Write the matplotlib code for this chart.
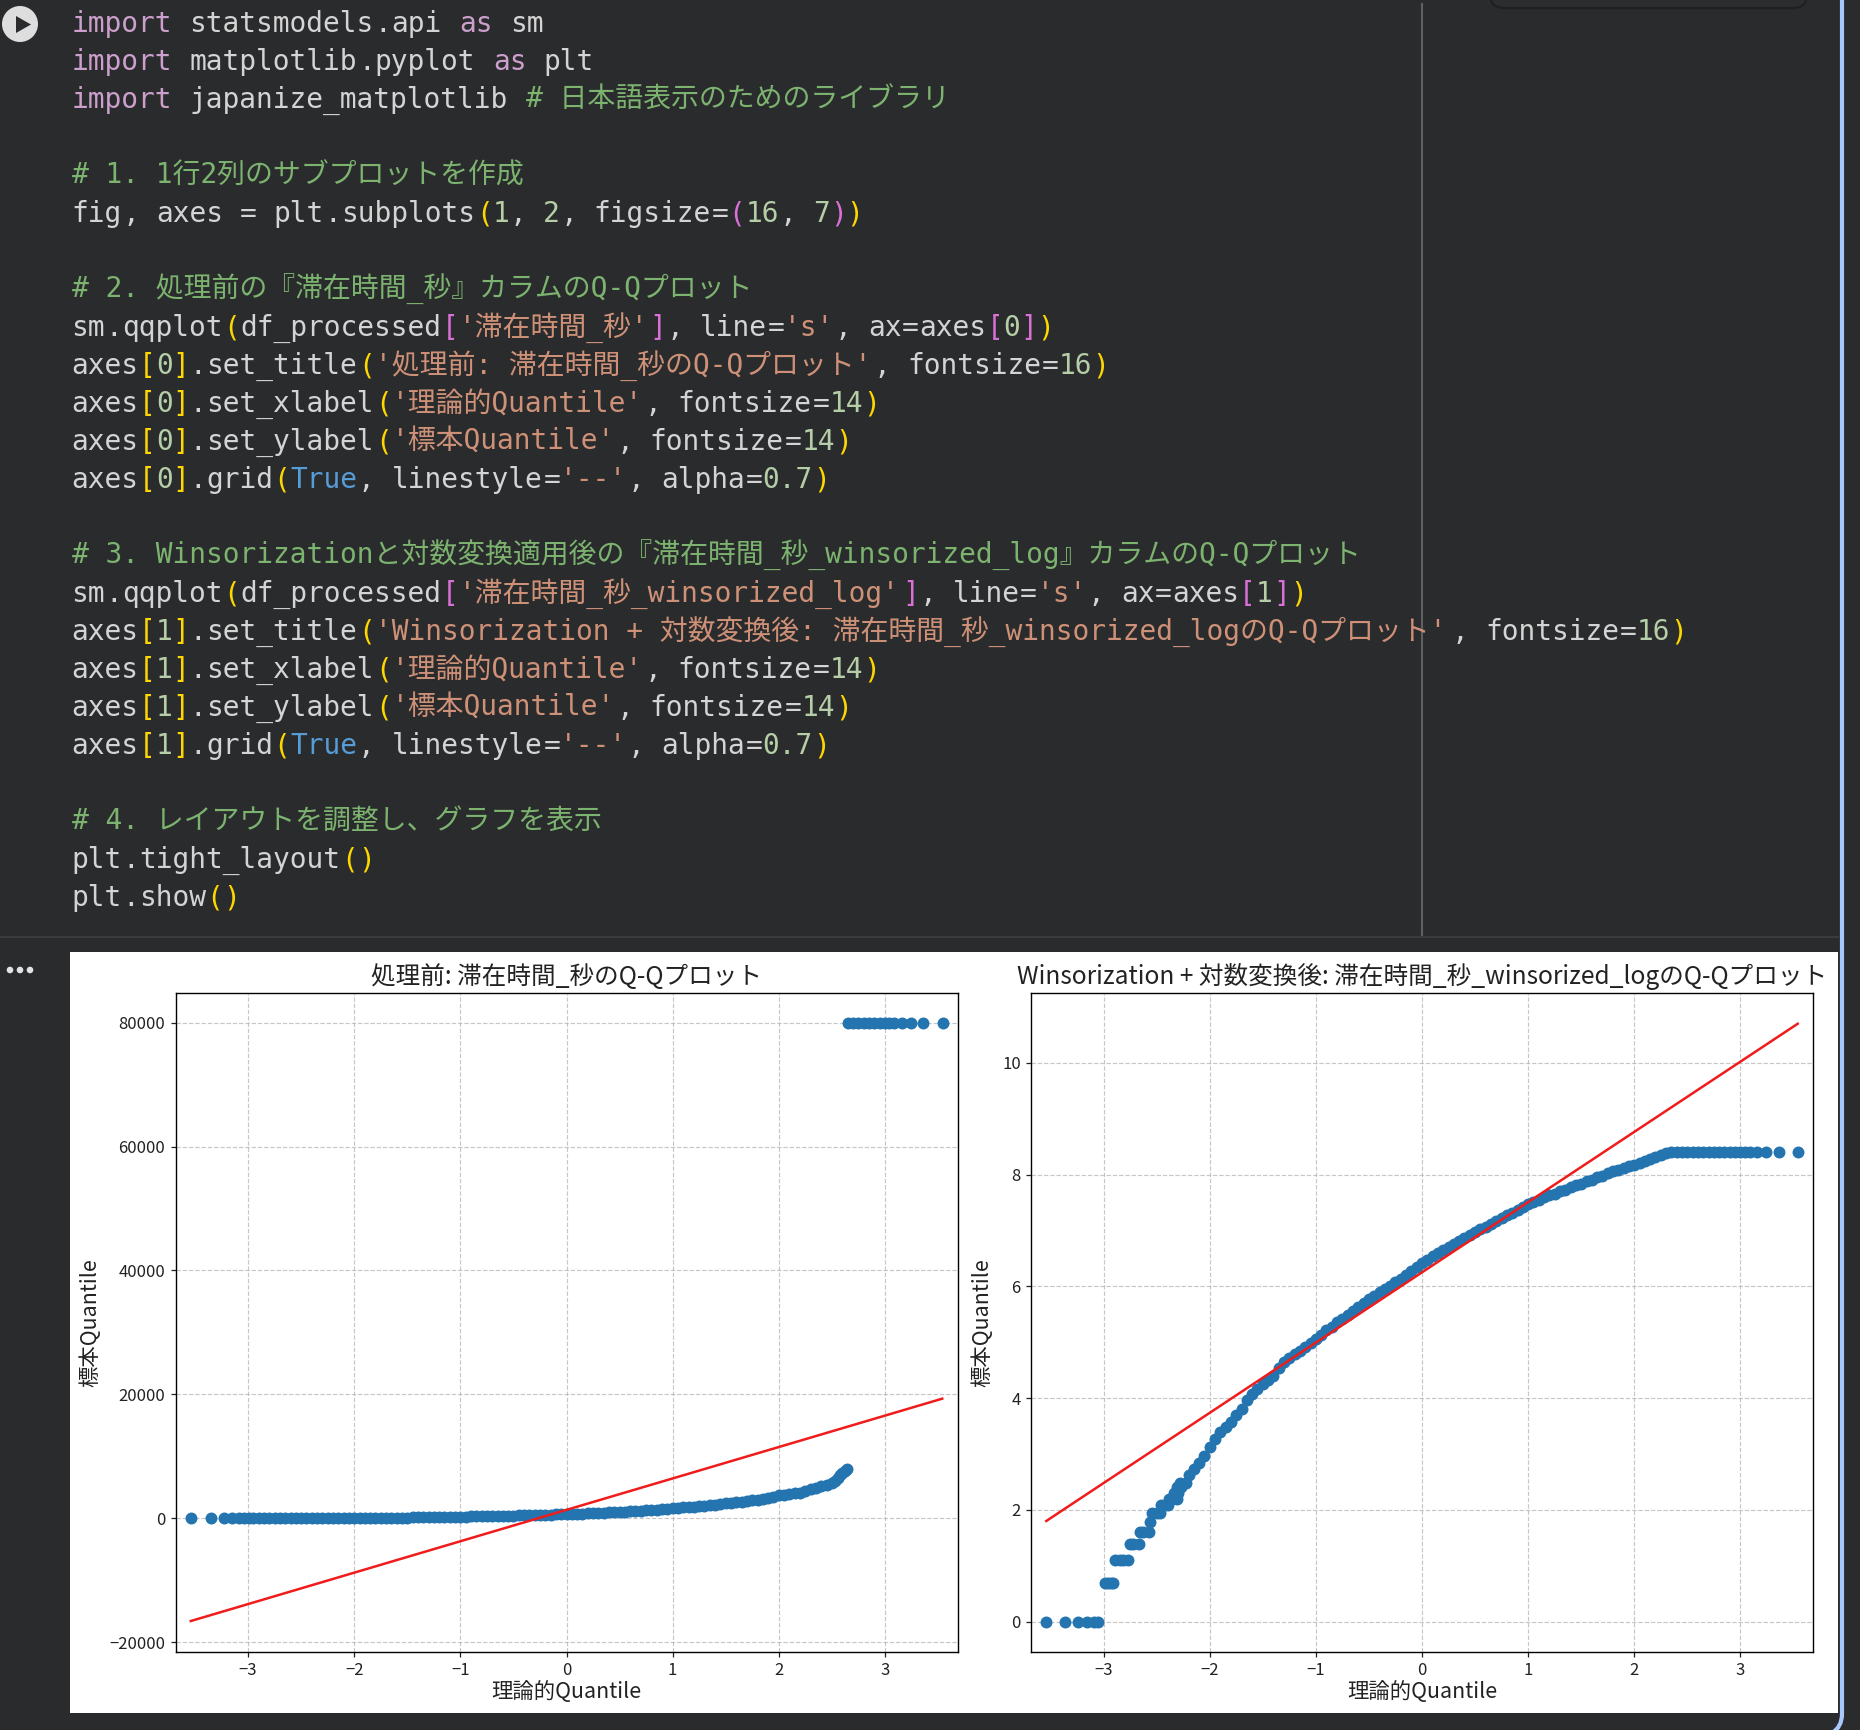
import re
import matplotlib
matplotlib.use('Agg')
import matplotlib.pyplot as plt
from matplotlib.patches import Rectangle, Circle, Polygon, FancyBboxPatch, PathPatch
from matplotlib.path import Path

plt.rcParams['font.family'] = ['Noto Sans CJK JP', 'DejaVu Sans']

# セルのコード
code_lines = [
    "import statsmodels.api as sm",
    "import matplotlib.pyplot as plt",
    "import japanize_matplotlib # 日本語表示のためのライブラリ",
    "",
    "# 1. 1行2列のサブプロットを作成",
    "fig, axes = plt.subplots(1, 2, figsize=(16, 7))",
    "",
    "# 2. 処理前の『滞在時間_秒』カラムのQ-Qプロット",
    "sm.qqplot(df_processed['滞在時間_秒'], line='s', ax=axes[0])",
    "axes[0].set_title('処理前: 滞在時間_秒のQ-Qプロット', fontsize=16)",
    "axes[0].set_xlabel('理論的Quantile', fontsize=14)",
    "axes[0].set_ylabel('標本Quantile', fontsize=14)",
    "axes[0].grid(True, linestyle='--', alpha=0.7)",
    "",
    "# 3. Winsorizationと対数変換適用後の『滞在時間_秒_winsorized_log』カラムのQ-Qプロット",
    "sm.qqplot(df_processed['滞在時間_秒_winsorized_log'], line='s', ax=axes[1])",
    "axes[1].set_title('Winsorization + 対数変換後: 滞在時間_秒_winsorized_logのQ-Qプロット', fontsize=16)",
    "axes[1].set_xlabel('理論的Quantile', fontsize=14)",
    "axes[1].set_ylabel('標本Quantile', fontsize=14)",
    "axes[1].grid(True, linestyle='--', alpha=0.7)",
    "",
    "# 4. レイアウトを調整し、グラフを表示",
    "plt.tight_layout()",
    "plt.show()",
]

title_left = '処理前: 滞在時間_秒のQ-Qプロット'
title_right = 'Winsorization + 対数変換後: 滞在時間_秒_winsorized_logのQ-Qプロット'
xlabel_text = '理論的Quantile'
ylabel_text = '標本Quantile'

# 左: 処理前 (上側のかたまりは80000で頭打ち)
raw_x = [-3.54, -3.35, -3.23, -3.15, -3.09, -3.04, -2.99,
         -2.95, -2.90, -2.85, -2.80, -2.75, -2.70, -2.65, -2.60, -2.55, -2.50,
         -2.45, -2.40, -2.35, -2.30, -2.25, -2.20, -2.15, -2.10, -2.05, -2.00,
         -1.95, -1.90, -1.85, -1.80, -1.75, -1.70, -1.65, -1.60, -1.55, -1.50,
         -1.45, -1.40, -1.35, -1.30, -1.25, -1.20, -1.15, -1.10, -1.05, -1.00,
         -0.95, -0.90, -0.85, -0.80, -0.75, -0.70, -0.65, -0.60, -0.55, -0.50,
         -0.45, -0.40, -0.35, -0.30, -0.25, -0.20, -0.15, -0.10, -0.05, 0.00,
         0.05, 0.10, 0.15, 0.20, 0.25, 0.30, 0.35, 0.40, 0.45, 0.50,
         0.55, 0.60, 0.65, 0.70, 0.75, 0.80, 0.85, 0.90, 0.95, 1.00,
         1.05, 1.10, 1.15, 1.20, 1.25, 1.30, 1.35, 1.40, 1.45, 1.50,
         1.55, 1.60, 1.65, 1.70, 1.75, 1.80, 1.85, 1.90, 1.95, 2.00,
         2.05, 2.10, 2.15, 2.20, 2.25, 2.30, 2.35, 2.40, 2.45, 2.50,
         2.53, 2.56, 2.58, 2.60, 2.62, 2.64,
         2.65, 2.70, 2.75, 2.80, 2.85, 2.90, 2.95, 3.00, 3.04, 3.09, 3.16, 3.245, 3.36, 3.545]
raw_y = [0, 0, 0, 0, 0, 0, 2,
         5, 5, 8, 8, 10, 10, 12, 15, 15, 18,
         20, 22, 25, 28, 30, 33, 36, 40, 45, 50,
         55, 60, 65, 70, 75, 82, 90, 97, 105, 115,
         125, 135, 145, 155, 165, 180, 195, 210, 230, 250,
         268, 285, 302, 320, 340, 358, 376, 394, 412, 430,
         450, 470, 490, 512, 535, 560, 585, 610, 635, 660,
         690, 720, 750, 785, 820, 855, 890, 930, 970, 1020,
         1065, 1110, 1160, 1210, 1260, 1320, 1380, 1440, 1520, 1600,
         1670, 1740, 1810, 1890, 1970, 2050, 2130, 2210, 2300, 2400,
         2490, 2580, 2680, 2780, 2890, 3000, 3120, 3270, 3480, 3700,
         3800, 3900, 4010, 4150, 4320, 4650, 4950, 5150, 5400, 5700,
         6000, 6500, 6900, 7300, 7700, 8000,
         80000, 80000, 80000, 80000, 80000, 80000, 80000, 80000, 80000, 80000, 80000, 80000, 80000, 80000]
raw_line_x = [-3.54, 3.54]
raw_line_y = [-16600, 19300]
raw_yticks = [-20000, 0, 20000, 40000, 60000, 80000]

# 右: Winsorization + 対数変換後 (下側は整数秒のlogで階段状)
log_x = [-3.54, -3.36, -3.24, -3.16, -3.09, -3.05,
         -2.99, -2.96, -2.93, -2.91,
         -2.89, -2.85, -2.82, -2.77,
         -2.75, -2.72, -2.67,
         -2.66, -2.63, -2.57,
         -2.56,
         -2.54, -2.50, -2.47,
         -2.46, -2.42, -2.39,
         -2.38, -2.36, -2.31,
         -2.34, -2.30,
         -2.31, -2.27,
         -2.28, -2.22,
         -2.20, -2.15, -2.10, -2.05, -2.00, -1.95, -1.90, -1.85, -1.80, -1.75,
         -1.70, -1.65, -1.60, -1.55, -1.50, -1.45, -1.40, -1.35, -1.30, -1.25,
         -1.20, -1.15, -1.10, -1.05, -1.00, -0.95, -0.90, -0.85, -0.80, -0.75,
         -0.70, -0.65, -0.60, -0.55, -0.50, -0.45, -0.40, -0.35, -0.30, -0.25,
         -0.20, -0.15, -0.10, -0.05, 0.00, 0.05, 0.10, 0.15, 0.20, 0.25,
         0.30, 0.35, 0.40, 0.45, 0.50, 0.55, 0.60, 0.65, 0.70, 0.75,
         0.80, 0.85, 0.90, 0.95, 1.00, 1.05, 1.10, 1.15, 1.20, 1.25,
         1.30, 1.35, 1.40, 1.45, 1.50, 1.55, 1.60, 1.65, 1.70, 1.75,
         1.80, 1.85, 1.90, 1.95, 2.00, 2.05, 2.10, 2.15, 2.20, 2.25,
         2.30, 2.35, 2.40, 2.45, 2.50, 2.55, 2.60, 2.65, 2.70, 2.75,
         2.80, 2.85, 2.90, 2.95, 3.00, 3.04, 3.09, 3.16, 3.245, 3.36, 3.545]
log_y = [0, 0, 0, 0, 0, 0,
         0.69, 0.69, 0.69, 0.69,
         1.10, 1.10, 1.10, 1.10,
         1.39, 1.39, 1.39,
         1.61, 1.61, 1.61,
         1.79,
         1.95, 1.95, 1.95,
         2.08, 2.08, 2.08,
         2.20, 2.20, 2.20,
         2.30, 2.30,
         2.40, 2.40,
         2.48, 2.48,
         2.62, 2.73, 2.83, 2.97, 3.12, 3.26, 3.40, 3.48, 3.57, 3.69,
         3.80, 3.97, 4.08, 4.17, 4.25, 4.32, 4.40, 4.53, 4.64, 4.71,
         4.78, 4.85, 4.92, 4.98, 5.05, 5.13, 5.21, 5.28, 5.36, 5.42,
         5.49, 5.56, 5.63, 5.71, 5.77, 5.83, 5.89, 5.95, 6.01, 6.08,
         6.14, 6.20, 6.28, 6.35, 6.42, 6.48, 6.54, 6.60, 6.65, 6.71,
         6.76, 6.81, 6.87, 6.92, 6.97, 7.02, 7.07, 7.12, 7.17, 7.22,
         7.27, 7.32, 7.37, 7.42, 7.47, 7.51, 7.55, 7.59, 7.63, 7.66,
         7.70, 7.73, 7.77, 7.81, 7.84, 7.88, 7.91, 7.95, 7.98, 8.02,
         8.06, 8.09, 8.12, 8.15, 8.18, 8.21, 8.24, 8.27, 8.31, 8.35,
         8.39, 8.40, 8.40, 8.40, 8.40, 8.40, 8.40, 8.40, 8.40, 8.40,
         8.40, 8.40, 8.40, 8.40, 8.40, 8.40, 8.40, 8.40, 8.40, 8.40, 8.40]
log_line_x = [-3.54, 3.54]
log_line_y = [1.80, 10.70]
log_yticks = [0, 2, 4, 6, 8, 10]

x_ticks = [-3, -2, -1, 0, 1, 2, 3]

W, H = 1860, 1730
BG = '#2a2b2d'
POINT = '#2474b0'

fig = plt.figure(figsize=(W / 100, H / 100), dpi=100, facecolor=BG)

# 画面全体をピクセル座標のaxesにする
bg = fig.add_axes([0, 0, 1, 1])
bg.set_xlim(0, W)
bg.set_ylim(H, 0)
bg.axis('off')

# エディタの飾り
bg.plot([1422, 1422], [4, 936], color='#5f6062', lw=1.5)
bg.plot([0, 1838], [937, 937], color='#3b3c3e', lw=1.5)
bg.add_patch(FancyBboxPatch((1490, -30), 317, 38, boxstyle='round,pad=0,rounding_size=14',
                            fc='#2c2d2f', ec='#1f2022', lw=1.6))
bg.add_patch(PathPatch(Path([(1842, -5), (1842, 1714), (1842, 1727), (1832, 1733)],
                            [Path.MOVETO, Path.LINETO, Path.CURVE3, Path.CURVE3]),
                       fc='none', ec='#a8c7fa', lw=3))
bg.add_patch(Circle((20, 24), 18, fc='#dedede', ec='none'))
bg.add_patch(Polygon([(16, 16), (16, 33), (31, 24.5)], closed=True, fc=BG, ec='none'))
for dot_x in [10, 20, 30]:
    bg.add_patch(Circle((dot_x, 970), 3.3, fc='#e3e3e3', ec='none'))
bg.add_patch(Rectangle((70, 952), 1768, 761, fc='white', ec='none'))

# コードの色分け
CODE_DEFAULT = '#d4d4d4'
CODE_KEYWORD = '#cc9fcc'
CODE_COMMENT = '#7cb36f'
CODE_STRING = '#ce9178'
CODE_NUMBER = '#b5cea8'
CODE_CONST = '#569cd6'
BRACKETS = ['#ffd700', '#da70d6']
token_re = re.compile(r"#.*|'[^']*'|\d+\.\d+|\w+|.")
code_family = ['DejaVu Sans Mono', 'Noto Sans CJK JP']


def advance(s):
    return sum(16.85 if ord(c) < 128 else 27.97 for c in s)


for i, line in enumerate(code_lines):
    x = 71.5
    y = 32 + i * 38
    depth = 0
    for tok in token_re.findall(line):
        color = CODE_DEFAULT
        if tok[0] == '#':
            color = CODE_COMMENT
        elif tok[0] == "'":
            color = CODE_STRING
        elif tok in ('import', 'as'):
            color = CODE_KEYWORD
        elif tok == 'True':
            color = CODE_CONST
        elif tok[0].isdigit():
            color = CODE_NUMBER
        elif tok in '([':
            color = BRACKETS[depth % 2]
            depth += 1
        elif tok in ')]':
            depth -= 1
            color = BRACKETS[depth % 2]
        if tok.strip():
            bg.text(x, y, tok, color=color, fontsize=20.1, family=code_family,
                    ha='left', va='baseline')
        x += advance(tok)


def qq_axes(left, right, top, bottom, xs, ys, line_x, line_y, yticks, ylim, title):
    ax = fig.add_axes([left / W, 1 - bottom / H, (right - left) / W, (bottom - top) / H])
    ax.plot(xs, ys, linestyle='none', marker='o', ms=8.6, mew=0, color=POINT)
    ax.plot(line_x, line_y, color='#f01c1c', lw=1.8)
    ax.set_xlim(-3.684, 3.684)
    ax.set_ylim(*ylim)
    ax.set_xticks(x_ticks)
    ax.set_yticks(yticks)
    ax.tick_params(labelsize=12, length=3.8, width=0.9, colors='#222222')
    ax.set_title(title, fontsize=17.7, pad=6.5, color='#222222')
    ax.set_xlabel(xlabel_text, fontsize=15.4, labelpad=1.5, color='#222222')
    ax.set_ylabel(ylabel_text, fontsize=15.4, labelpad=6, color='#222222')
    ax.grid(True, linestyle='--', alpha=0.7, lw=0.85)
    ax.set_axisbelow(True)
    for s in ax.spines.values():
        s.set_linewidth(1.0)
    return ax


qq_axes(175.5, 957.5, 993, 1651.5, raw_x, raw_y, raw_line_x, raw_line_y, raw_yticks,
        (-21520, 84800), title_left)
qq_axes(1031, 1813, 993, 1651.5, log_x, log_y, log_line_x, log_line_y, log_yticks,
        (-0.536, 11.25), title_right)

fig.savefig('out.png', dpi=100, facecolor=BG)
